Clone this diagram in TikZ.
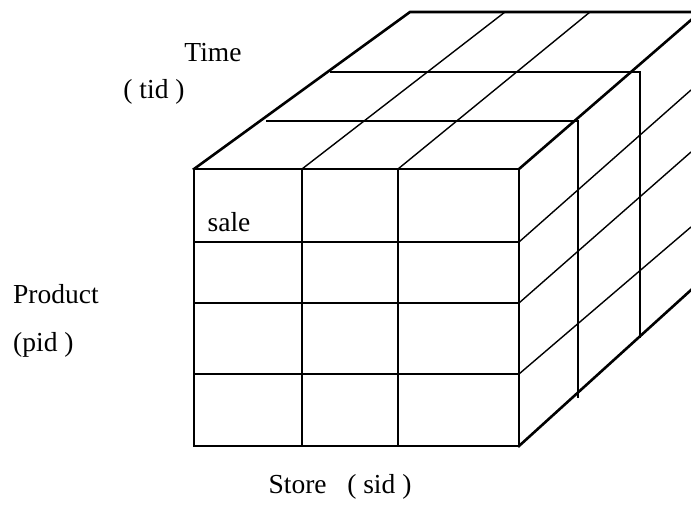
\documentclass[tikz,border=0pt]{standalone}
\usepackage{fontspec}
\setmainfont{Liberation Serif}
\begin{document}
\begin{tikzpicture}[x=1pt,y=-1pt,
  outer/.style={line width=2.6pt,line join=miter,line cap=rect},
  inner/.style={line width=1.4pt},
  lbl/.style={inner sep=0pt,font=\fontsize{27.5}{30}\selectfont}]
\useasboundingbox (0,0) rectangle (691,513);
% key points
\coordinate (FTL) at (194,169);
\coordinate (FTR) at (519,169);
\coordinate (FBL) at (194,446);
\coordinate (FBR) at (519,446);
\coordinate (BTL) at (410,12);
\coordinate (BTR) at (691,12);
\coordinate (ERT) at (691,20);
\coordinate (ERB) at (691,290);
% front face inner grid
\draw[inner] (302,169) -- (302,446);
\draw[inner] (398,169) -- (398,446);
\draw[inner] (194,242) -- (519,242);
\draw[inner] (194,303) -- (519,303);
\draw[inner] (194,374) -- (519,374);
% top face inner lines
\draw[inner] (302,169) -- (505,12);
\draw[inner] (398,169) -- (590,12);
\draw[inner] (266,121) -- (578,121) -- (578,398);
\draw[inner] (330,72) -- (640,72) -- (640,338);
% right face inner lines
\draw[inner] (519,242) -- (691,90);
\draw[inner] (519,303) -- (691,152);
\draw[inner] (519,374) -- (691,227);
% outer edges
\draw[outer] (FTL) rectangle (FBR);
\draw[outer] (FTL) -- (BTL) -- (BTR);
\draw[outer] (FTR) -- (ERT);
\draw[outer] (FBR) -- (ERB);
% labels
\node[lbl] (time) at (213,53) {Time};
\node[lbl] (tid) at (154,92) {( tid )};
\node[lbl] (sale) at (229,222) {sale};
\node[lbl,anchor=west] (product) at (13,294) {Product};
\node[lbl,anchor=west] (pid) at (13,345) {(pid )};
\node[lbl] (store) at (340,487) {Store \ \ ( sid )};
\end{tikzpicture}
\end{document}
